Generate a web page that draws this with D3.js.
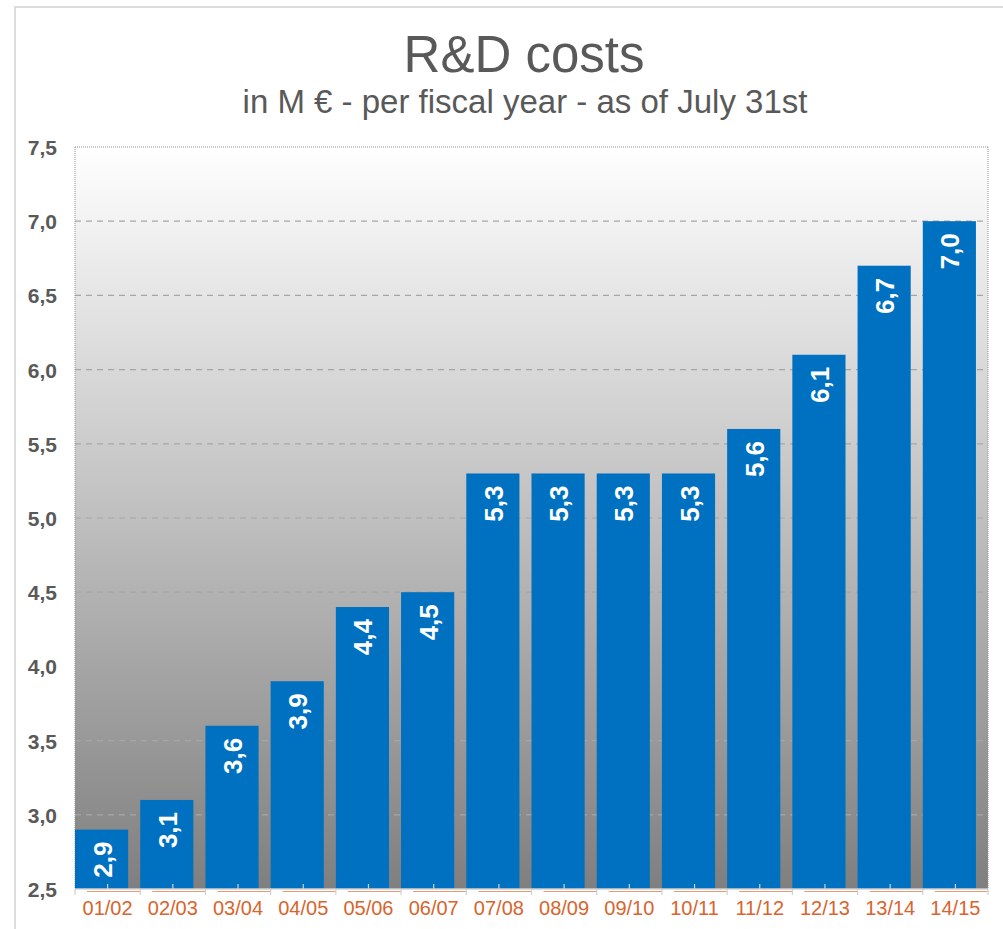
<!DOCTYPE html>
<html>
<head>
<meta charset="utf-8">
<script src="https://cdn.jsdelivr.net/npm/d3@7"></script>
<style>
  html, body { margin: 0; padding: 0; background: #fff; }
  svg { display: block; font-family: Arial, "Liberation Sans", sans-serif; }
</style>
</head>
<body>
<svg id="chart" width="1003" height="929"></svg>
<script>
const categories = ["01/02","02/03","03/04","04/05","05/06","06/07","07/08","08/09","09/10","10/11","11/12","12/13","13/14","14/15"];
const values = [2.9, 3.1, 3.6, 3.9, 4.4, 4.5, 5.3, 5.3, 5.3, 5.3, 5.6, 6.1, 6.7, 7.0];
const yTicks = [2.5, 3.0, 3.5, 4.0, 4.5, 5.0, 5.5, 6.0, 6.5, 7.0, 7.5];
const titleText = "R&D costs";
const subtitleText = "in M € - per fiscal year - as of July 31st";

const svg = d3.select("#chart");
const W = 1003, H = 929;
const m = {left: 75, right: 15, top: 147, bottom: 40};
const pw = W - m.left - m.right, ph = H - m.top - m.bottom;
const fmt = v => d3.format(".1f")(v).replace(".", ",");

// outer frame
svg.append("rect").attr("x", 15).attr("y", 7).attr("width", 1100).attr("height", 1100)
  .attr("fill", "#fff").attr("stroke", "#dcdcdc").attr("stroke-width", 2);

// gradient
const defs = svg.append("defs");
const grad = defs.append("linearGradient").attr("id", "bg").attr("x1", 0).attr("y1", 0).attr("x2", 0).attr("y2", 1);
grad.append("stop").attr("offset", "0%").attr("stop-color", "#ffffff");
grad.append("stop").attr("offset", "100%").attr("stop-color", "#7f7f7f");

const x = d3.scaleBand().domain(categories).range([0, pw]).paddingInner(0).paddingOuter(0);
const y = d3.scaleLinear().domain([2.5, 7.5]).range([ph, 0]);
const bw = x.bandwidth() * 0.815;

// titles
svg.append("text").attr("x", 524).attr("y", 72).attr("text-anchor", "middle")
  .attr("font-size", 51).attr("fill", "#595959").text(titleText);
svg.append("text").attr("x", 525).attr("y", 113).attr("text-anchor", "middle")
  .attr("font-size", 33).attr("fill", "#595959").text(subtitleText);

const g = svg.append("g").attr("transform", `translate(${m.left},${m.top})`);

g.append("rect").attr("width", pw).attr("height", ph).attr("fill", "url(#bg)");

// gridlines
g.append("g").selectAll("line").data(yTicks.filter(t => t > 2.5 && t < 7.5)).join("line")
  .attr("x1", 0).attr("x2", pw).attr("y1", d => y(d)).attr("y2", d => y(d))
  .attr("stroke", "#a6a6a6").attr("stroke-width", 1.2).attr("stroke-dasharray", "6,5");

// dotted border top/left/right
g.append("line").attr("x1", 0).attr("x2", pw).attr("y1", y(7.5)).attr("y2", y(7.5))
  .attr("stroke", "#909090").attr("stroke-width", 1).attr("stroke-dasharray", "1,1");
g.append("line").attr("x1", 0).attr("x2", 0).attr("y1", 0).attr("y2", ph)
  .attr("stroke", "#909090").attr("stroke-width", 1).attr("stroke-dasharray", "1,1");
g.append("line").attr("x1", pw).attr("x2", pw).attr("y1", 0).attr("y2", ph)
  .attr("stroke", "#909090").attr("stroke-width", 1).attr("stroke-dasharray", "1,1");

// bars
g.append("g").selectAll("rect").data(values).join("rect")
  .attr("x", (d, i) => x(categories[i]))
  .attr("y", d => y(d))
  .attr("width", bw)
  .attr("height", d => y(2.5) - y(d))
  .attr("fill", "#0070c0");

// bar labels
g.append("g").selectAll("text").data(values).join("text")
  .attr("transform", (d, i) => `translate(${x(categories[i]) + bw / 2 + 1},${y(d) + 12}) rotate(-90)`)
  .attr("text-anchor", "end").attr("dominant-baseline", "central")
  .attr("font-size", 26).attr("font-weight", "bold").attr("fill", "#fff")
  .text(d => fmt(d));

// y axis labels
const yAxis = d3.axisLeft(y).tickValues(yTicks).tickFormat(fmt).tickSize(0).tickPadding(18);
const ya = g.append("g").call(yAxis);
ya.select(".domain").remove();
ya.selectAll("text").attr("font-size", 21).attr("font-weight", "bold").attr("fill", "#595959")
  .attr("font-family", "Arial, 'Liberation Sans', sans-serif").attr("dy", "0.36em");

// x axis
const xa = g.append("g").attr("transform", `translate(0,${ph})`);
xa.append("line").attr("x1", 0).attr("x2", pw).attr("stroke", "#d0d0d0").attr("stroke-width", 1.5);
// orange underline segments
xa.selectAll("line.u").data(categories).join("line").attr("class", "u")
  .attr("x1", d => x(d) + 12).attr("x2", d => x(d) + x.bandwidth())
  .attr("y1", 2.5).attr("y2", 2.5).attr("stroke", "#ee9a70").attr("stroke-width", 1.2);
// boundary ticks (down)
xa.selectAll("line.b").data(categories.concat(["__end"])).join("line").attr("class", "b")
  .attr("x1", (d, i) => i * x.step()).attr("x2", (d, i) => i * x.step())
  .attr("y1", 0).attr("y2", 6).attr("stroke", "#d0d0d0").attr("stroke-width", 1.2);
// center ticks (up)
xa.selectAll("line.c").data(categories).join("line").attr("class", "c")
  .attr("x1", d => x(d) + x.bandwidth() / 2).attr("x2", d => x(d) + x.bandwidth() / 2)
  .attr("y1", 0).attr("y2", -5).attr("stroke", "#d0d0d0").attr("stroke-width", 1.2);
xa.selectAll("text").data(categories).join("text")
  .attr("x", d => x(d) + x.bandwidth() / 2).attr("y", 26)
  .attr("text-anchor", "middle").attr("font-size", 20).attr("fill", "#d9642c")
  .text(d => d);
</script>
</body>
</html>
